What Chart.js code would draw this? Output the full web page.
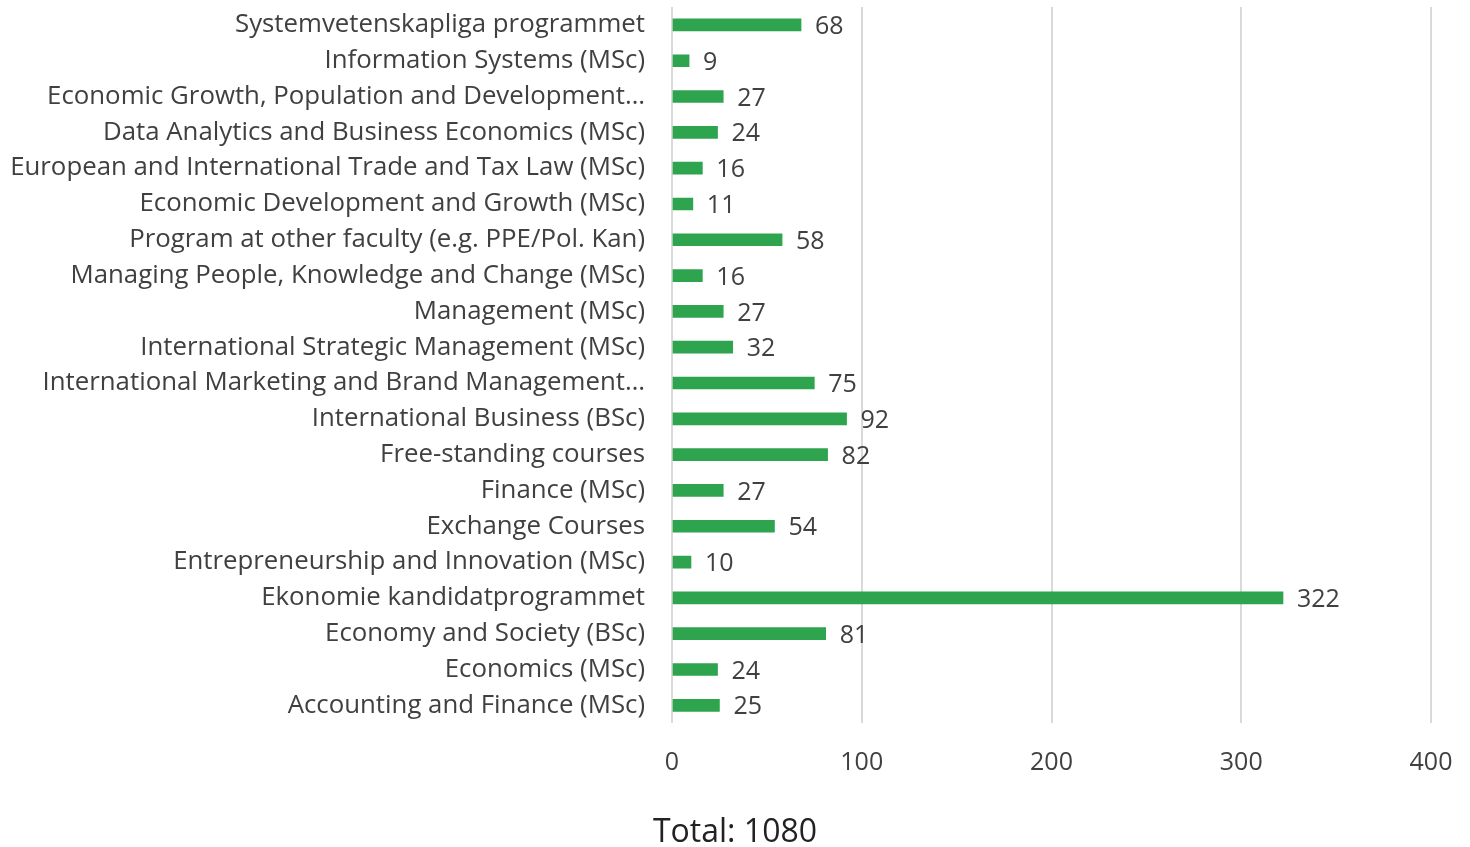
<!DOCTYPE html>
<html>
<head>
<meta charset="utf-8">
<title>Students per programme</title>
<script src="https://cdn.jsdelivr.net/npm/chart.js@4.4.6/dist/chart.umd.min.js"></script>
<style>
  html, body { margin: 0; padding: 0; background: #fff; }
  #wrap { width: 1470px; height: 847px; }
</style>
</head>
<body>
<div id="wrap"><canvas id="chart-programmes"></canvas></div>
<script>
// Programme names, top to bottom as shown.
const programmes = [
  "Systemvetenskapliga programmet",
  "Information Systems (MSc)",
  "Economic Growth, Population and Development…",
  "Data Analytics and Business Economics (MSc)",
  "European and International Trade and Tax Law (MSc)",
  "Economic Development and Growth (MSc)",
  "Program at other faculty (e.g. PPE/Pol. Kan)",
  "Managing People, Knowledge and Change (MSc)",
  "Management (MSc)",
  "International Strategic Management (MSc)",
  "International Marketing and Brand Management…",
  "International Business (BSc)",
  "Free-standing courses",
  "Finance (MSc)",
  "Exchange Courses",
  "Entrepreneurship and Innovation (MSc)",
  "Ekonomie kandidatprogrammet",
  "Economy and Society (BSc)",
  "Economics (MSc)",
  "Accounting and Finance (MSc)",
];
const students = [68, 9, 27, 24, 16, 11, 58, 16, 27, 32, 75, 92, 82, 27, 54, 10, 322, 81, 24, 25];
const xTicks = [0, 100, 200, 300, 400];
const titleText = "Total: 1080";

const TEXT = "#404040";
const FONT = "'Open Sans', 'Noto Sans', sans-serif";

// draws the count just right of each bar
const valueLabels = {
  id: "valueLabels",
  afterDatasetsDraw(chart) {
    const { ctx } = chart;
    const meta = chart.getDatasetMeta(0);
    ctx.save();
    ctx.font = `25px ${FONT}`;
    ctx.fillStyle = TEXT;
    ctx.textAlign = "left";
    ctx.textBaseline = "middle";
    meta.data.forEach((bar, i) => {
      ctx.fillText(String(students[i]), bar.x + 14, bar.y + 2);
    });
    ctx.restore();
  },
};

new Chart(document.getElementById("chart-programmes"), {
  type: "bar",
  data: {
    labels: programmes,
    datasets: [{
      data: students,
      backgroundColor: "#2ea44f",
      barThickness: 12,
    }],
  },
  options: {
    indexAxis: "y",
    responsive: true,
    maintainAspectRatio: false,
    animation: false,
    layout: { padding: { top: 7, right: 0, bottom: 0, left: 0 } },
    scales: {
      x: {
        min: 0,
        max: 400,
        afterBuildTicks: s => { s.ticks = xTicks.map(v => ({ value: v })); },
        afterFit: s => { s.paddingLeft = 0; s.paddingRight = 39; },
        grid: { color: "#d9d9d9", lineWidth: 2, drawTicks: false },
        border: { display: false },
        ticks: { color: TEXT, font: { family: FONT, size: 25 }, padding: 25 },
      },
      y: {
        afterFit: s => { s.width = 672; s.paddingTop = 0; s.paddingBottom = 0; },
        grid: { display: false, drawTicks: false },
        border: { display: false },
        ticks: { color: TEXT, font: { family: FONT, size: 25.8 }, padding: 27, autoSkip: false },
      },
    },
    plugins: {
      legend: { display: false },
      tooltip: { enabled: false },
      title: {
        display: true,
        text: titleText,
        position: "bottom",
        color: "#222",
        font: { family: FONT, size: 32, weight: "normal", lineHeight: 0.9 },
        padding: { top: 15, bottom: 0 },
      },
    },
  },
  plugins: [valueLabels],
});
</script>
</body>
</html>
